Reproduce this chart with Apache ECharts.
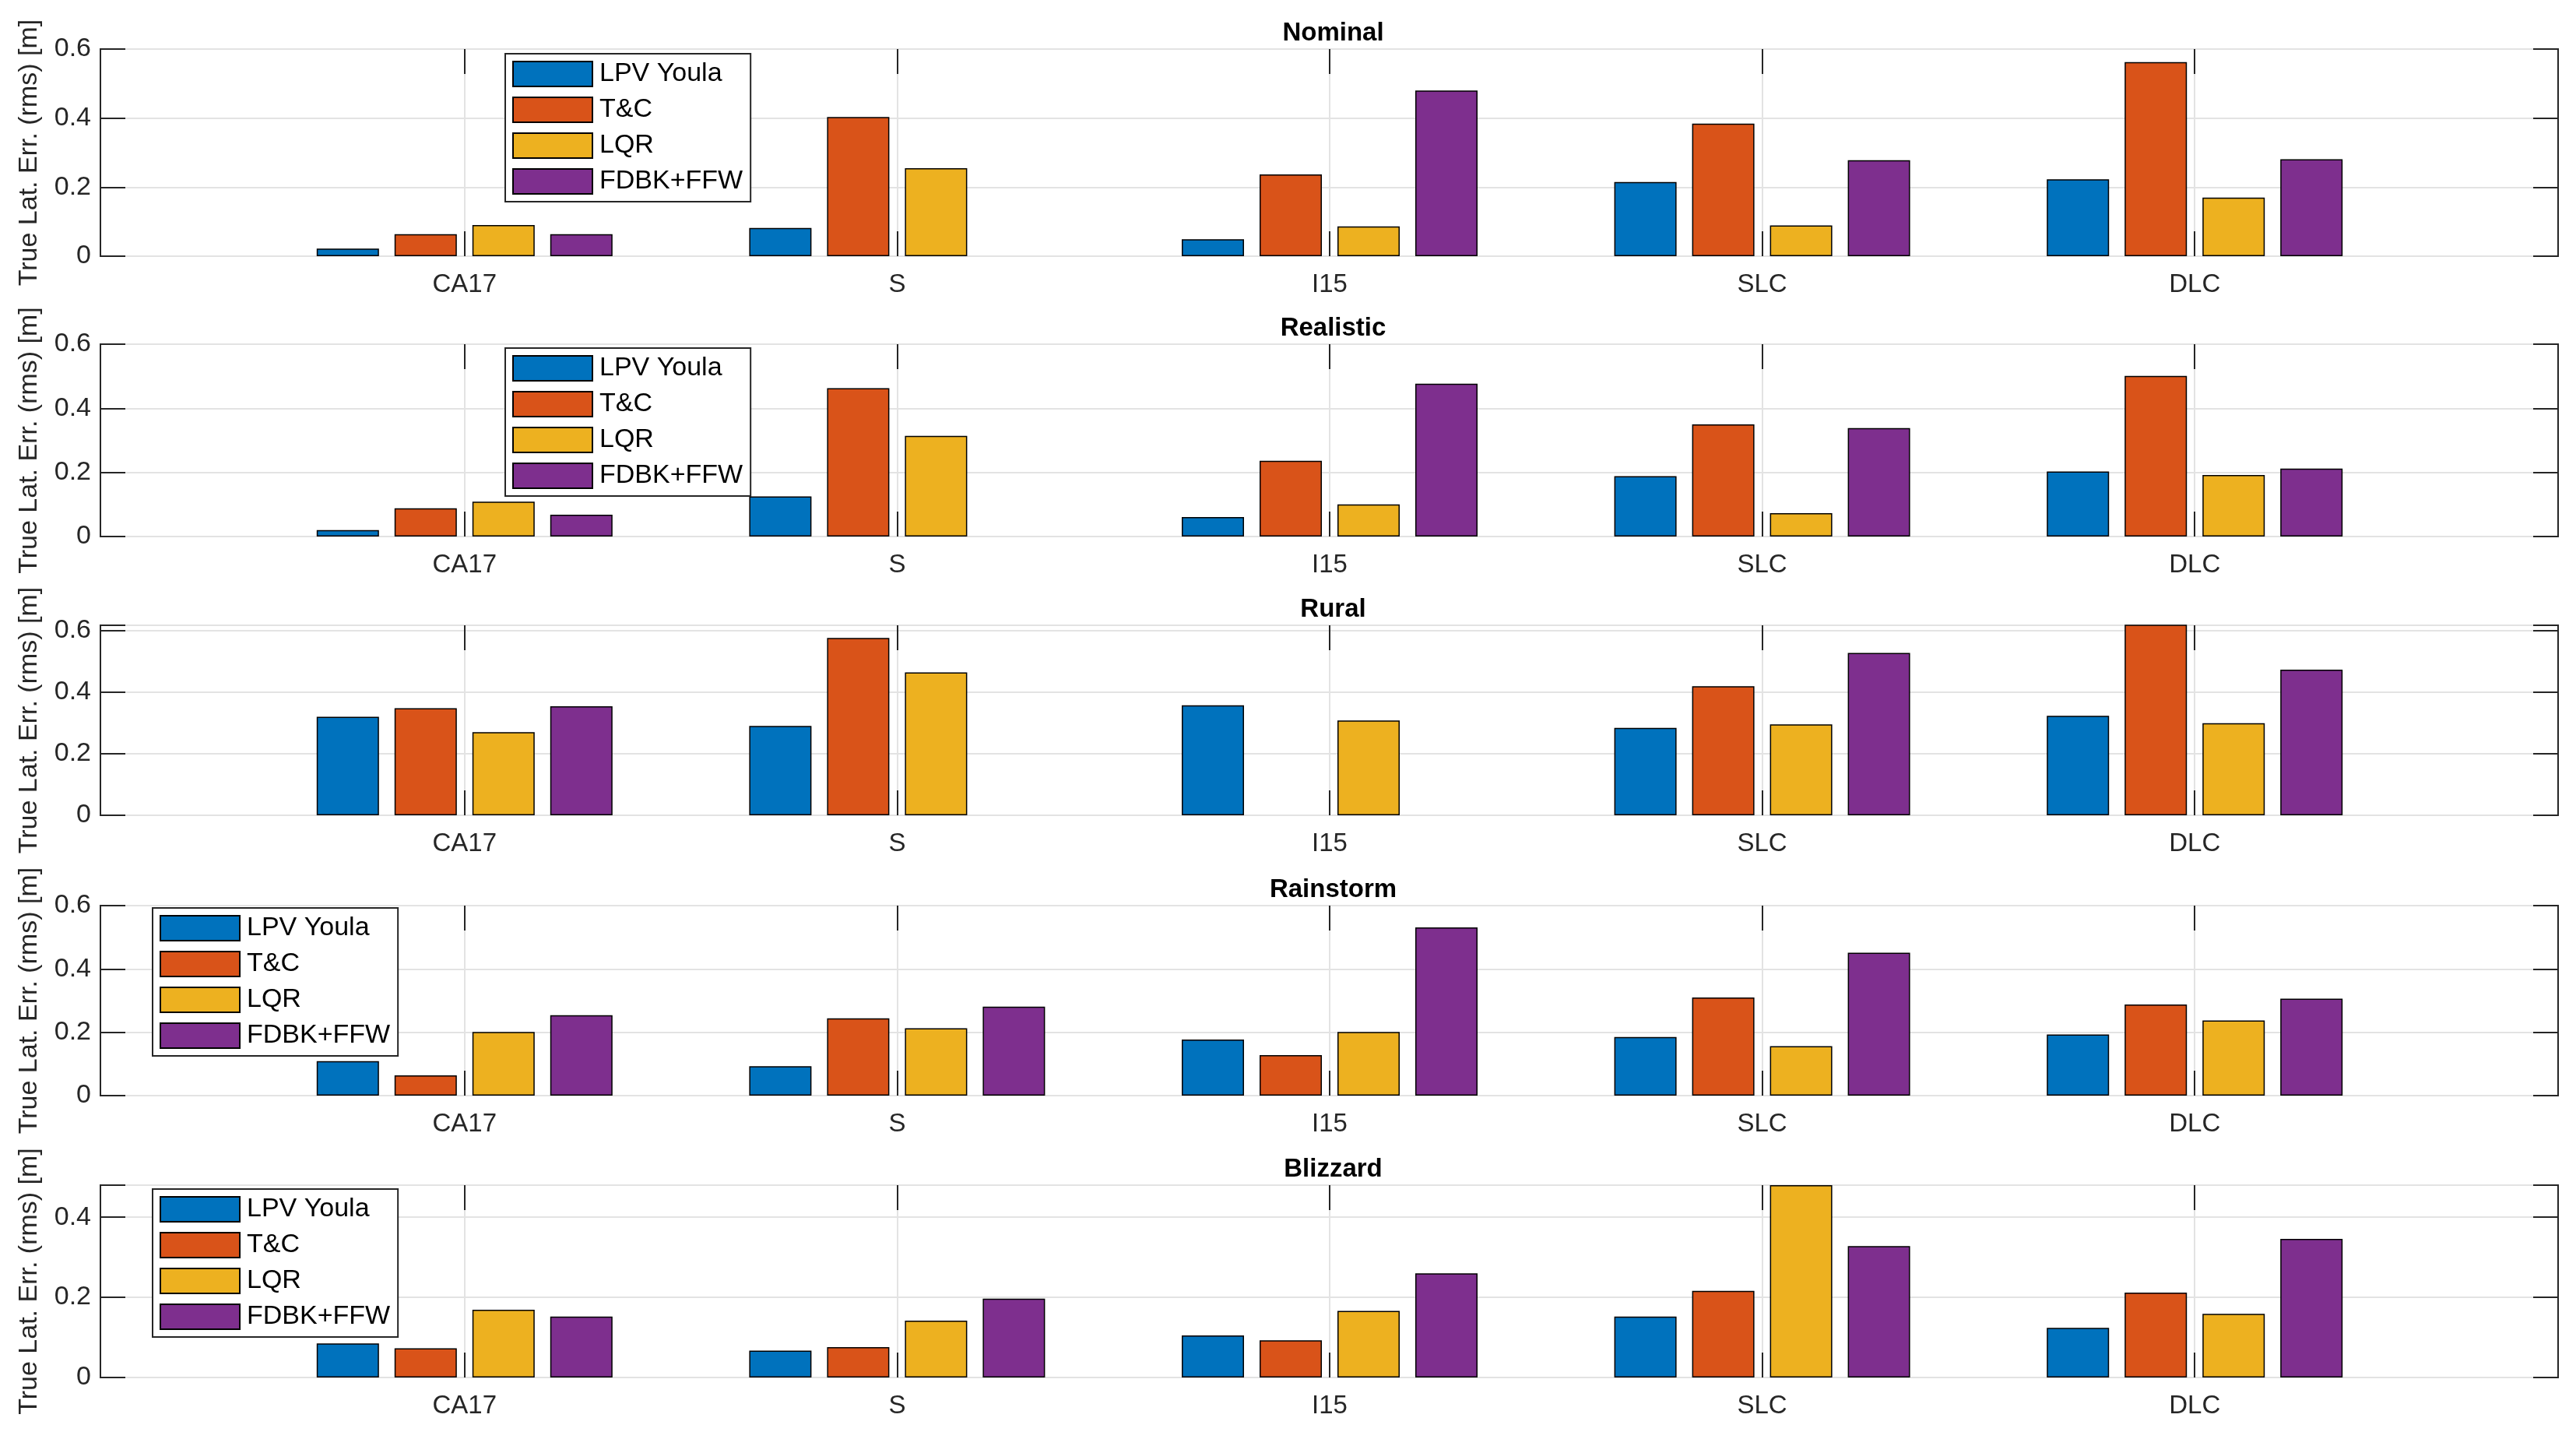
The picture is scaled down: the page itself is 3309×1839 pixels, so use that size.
<!DOCTYPE html>
<html>
<head>
<meta charset="utf-8">
<script src="https://cdn.jsdelivr.net/npm/echarts@6/dist/echarts.min.js"></script>
<style>
html,body{margin:0;padding:0;background:#fff;}
#chart{width:3309px;height:1839px;}
</style>
</head>
<body>
<div id="chart"></div>
<script>
// ---------------- DATA ----------------
const categories = ['CA17', 'S', 'I15', 'SLC', 'DLC'];
const methods = ['LPV Youla', 'T&C', 'LQR', 'FDBK+FFW'];
const scenarios = ['Nominal', 'Realistic', 'Rural', 'Rainstorm', 'Blizzard'];
const yMaxValues = [0.6, 0.6, 0.617, 0.6, 0.48];
const yTickStep = 0.2;
const yAxisTitle = 'True Lat. Err. (rms) [m]';

const nominalLPV  = [0.022, 0.082, 0.049, 0.215, 0.223];
const nominalTC   = [0.064, 0.403, 0.237, 0.384, 0.562];
const nominalLQR  = [0.090, 0.255, 0.086, 0.089, 0.170];
const nominalFDBK = [0.064, null,  0.480, 0.278, 0.281];

const realisticLPV  = [0.020, 0.125, 0.061, 0.188, 0.203];
const realisticTC   = [0.088, 0.463, 0.236, 0.350, 0.501];
const realisticLQR  = [0.109, 0.314, 0.100, 0.073, 0.192];
const realisticFDBK = [0.068, null,  0.477, 0.338, 0.212];

const ruralLPV  = [0.320, 0.290, 0.357, 0.284, 0.323];
const ruralTC   = [0.348, 0.576, null,  0.419, 0.620];
const ruralLQR  = [0.270, 0.464, 0.308, 0.295, 0.299];
const ruralFDBK = [0.354, null,  null,  0.527, 0.473];

const rainstormLPV  = [0.109, 0.093, 0.177, 0.185, 0.193];
const rainstormTC   = [0.064, 0.244, 0.128, 0.310, 0.288];
const rainstormLQR  = [0.201, 0.213, 0.201, 0.156, 0.237];
const rainstormFDBK = [0.254, 0.281, 0.531, 0.451, 0.306];

const blizzardLPV  = [0.085, 0.067, 0.105, 0.152, 0.124];
const blizzardTC   = [0.073, 0.076, 0.093, 0.216, 0.212];
const blizzardLQR  = [0.169, 0.142, 0.166, 0.480, 0.159];
const blizzardFDBK = [0.152, 0.197, 0.260, 0.328, 0.346];

const scenarioData = [
  [nominalLPV, nominalTC, nominalLQR, nominalFDBK],
  [realisticLPV, realisticTC, realisticLQR, realisticFDBK],
  [ruralLPV, ruralTC, ruralLQR, ruralFDBK],
  [rainstormLPV, rainstormTC, rainstormLQR, rainstormFDBK],
  [blizzardLPV, blizzardTC, blizzardLQR, blizzardFDBK]
];

// ---------------- LAYOUT / STYLE ----------------
const colors = ['#0072BD', '#D95319', '#EDB120', '#7E2F8E'];
const FONT = "'Liberation Sans', Arial, Helvetica, sans-serif";
const AX = '#262626';
const GRIDC = '#e3e3e3';
const panelTop = [63, 442, 803, 1163, 1522];
const panelBottom = [329, 689, 1047, 1407, 1769];
const frameLeft = 129, frameRight = 3309 - 3286;
const insetLeft = 319, insetRight = 3309 - 3097;
const tickLen = 32;
const legendPos = [{left: 649, top: 69}, {left: 649, top: 447}, null, {left: 196, top: 1166}, {left: 196, top: 1527}];

const grid = [], xAxis = [], yAxis = [], series = [], title = [], legend = [];

function yFmt(v) {
  const k = v / yTickStep;
  if (Math.abs(k - Math.round(k)) > 1e-6) return '';
  if (Math.abs(v) < 1e-9) return '0';
  return v.toFixed(1);
}

scenarios.forEach((name, p) => {
  const top = panelTop[p];
  const height = panelBottom[p] - panelTop[p];
  const gF = grid.length;
  grid.push({left: frameLeft, right: frameRight, top: top, height: height,
             show: true, borderColor: AX, borderWidth: 2, backgroundColor: 'transparent', containLabel: false});
  const gI = grid.length;
  grid.push({left: insetLeft, right: insetRight, top: top, height: height, containLabel: false});

  xAxis.push({gridIndex: gF, type: 'value', min: 0, max: 1, show: false});
  const xI = xAxis.length;
  xAxis.push({
    gridIndex: gI, type: 'category', data: categories, position: 'bottom',
    axisLine: {show: false},
    axisTick: {show: true, inside: true, alignWithLabel: true, length: tickLen, lineStyle: {color: AX, width: 2}},
    axisLabel: {show: true, margin: 20, fontSize: 33, color: AX, fontFamily: FONT},
    splitLine: {show: true, alignWithLabel: true, lineStyle: {color: GRIDC, width: 2}}
  });
  xAxis.push({
    gridIndex: gI, type: 'category', data: categories, position: 'top',
    axisLine: {show: false},
    axisTick: {show: true, inside: true, alignWithLabel: true, length: tickLen, lineStyle: {color: AX, width: 2}},
    axisLabel: {show: false}, splitLine: {show: false}
  });

  yAxis.push({
    gridIndex: gF, type: 'value', min: 0, max: yMaxValues[p], interval: yTickStep, position: 'left',
    axisLine: {show: true, lineStyle: {color: AX, width: 2}},
    axisTick: {show: true, inside: true, length: tickLen, lineStyle: {color: AX, width: 2}},
    axisLabel: {show: true, margin: 12, fontSize: 34, color: AX, fontFamily: FONT, formatter: yFmt},
    splitLine: {show: true, lineStyle: {color: GRIDC, width: 2}},
    name: yAxisTitle, nameLocation: 'middle', nameRotate: 90, nameGap: 74,
    nameTextStyle: {fontSize: 34, color: AX, fontFamily: FONT}
  });
  yAxis.push({
    gridIndex: gF, type: 'value', min: 0, max: yMaxValues[p], interval: yTickStep, position: 'right',
    axisLine: {show: true, lineStyle: {color: AX, width: 2}},
    axisTick: {show: true, inside: true, length: tickLen, lineStyle: {color: AX, width: 2}},
    axisLabel: {show: false}, splitLine: {show: false}
  });
  const yI = yAxis.length;
  yAxis.push({gridIndex: gI, type: 'value', min: 0, max: yMaxValues[p], show: false});

  title.push({
    text: name, left: (frameLeft + 3309 - frameRight) / 2, top: top - 42, textAlign: 'center',
    textStyle: {fontSize: 33, fontWeight: 'bold', color: '#000', fontFamily: FONT}
  });

  scenarioData[p].forEach((vals, m) => {
    series.push({
      type: 'bar', name: methods[m], xAxisIndex: xI, yAxisIndex: yI,
      data: vals, barWidth: 80, barGap: '25%',
      itemStyle: {color: colors[m], borderColor: '#000', borderWidth: 1.5},
      emphasis: {disabled: true}, animation: false
    });
  });

  if (legendPos[p]) {
    legend.push({
      data: methods, orient: 'vertical', left: legendPos[p].left, top: legendPos[p].top,
      itemWidth: 102, itemHeight: 32, itemGap: 12, icon: 'rect',
      padding: [9, 10, 9, 9], backgroundColor: '#fff', borderColor: AX, borderWidth: 2,
      itemStyle: {borderColor: '#000', borderWidth: 2},
      textStyle: {fontSize: 34, color: '#000', fontFamily: FONT, padding: [0, 0, 0, 4]},
      selectedMode: false
    });
  }
});

const chart = echarts.init(document.getElementById('chart'), null, {renderer: 'canvas'});
chart.setOption({
  animation: false, backgroundColor: '#fff', color: colors,
  grid, xAxis, yAxis, series, title, legend
});
</script>
</body>
</html>
